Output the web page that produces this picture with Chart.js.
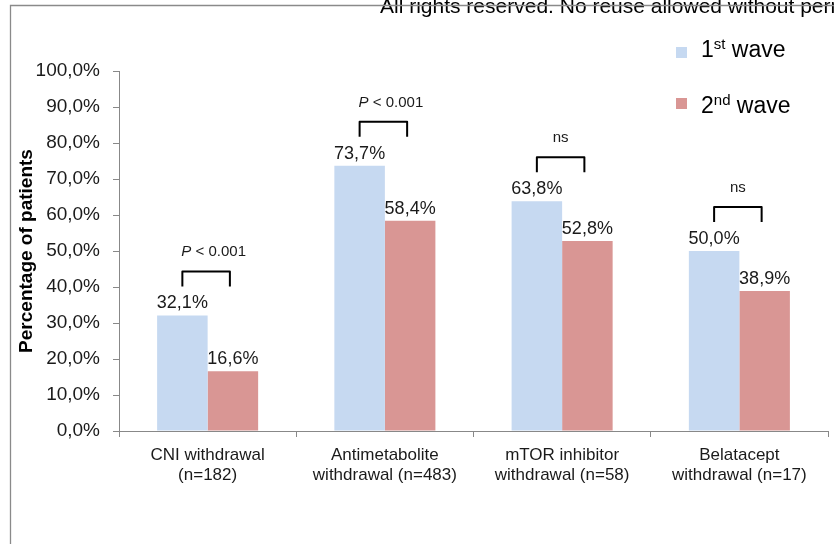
<!DOCTYPE html>
<html>
<head>
<meta charset="utf-8">
<script src="https://cdn.jsdelivr.net/npm/chart.js@4.4.1/dist/chart.umd.min.js"></script>
<style>
  html, body { margin: 0; padding: 0; background: #fff; }
  #wrap { position: relative; width: 834px; height: 544px; }
</style>
</head>
<body>
<div id="wrap"><canvas id="chart"></canvas></div>
<script>
// data
const categories = [
    ['CNI withdrawal', '(n=182)'],
    ['Antimetabolite', 'withdrawal (n=483)'],
    ['mTOR inhibitor', 'withdrawal (n=58)'],
    ['Belatacept', 'withdrawal (n=17)']
];
const seriesNames = ['1st wave', '2nd wave'];
const firstWave = [32.1, 73.7, 63.8, 50.0];
const secondWave = [16.6, 58.4, 52.8, 38.9];
const significance = ['P < 0.001', 'P < 0.001', 'ns', 'ns'];
const yMin = 0, yMax = 100, yStep = 10;
const watermark = 'All rights reserved. No reuse allowed without permission.';

const BLUE = '#C6D9F1';
const RED = '#D99694';
const FONT = "'Liberation Sans', Arial, sans-serif";

Chart.defaults.font.family = FONT;
Chart.defaults.color = '#1a1a1a';

// 逗號小數，跟原圖一樣
const pct = v => v.toFixed(1).replace('.', ',') + '%';

const overlayPlugin = {
    id: 'overlay',
    afterDatasetsDraw(chart) {
        const ctx = chart.ctx;
        const m0 = chart.getDatasetMeta(0);
        const m1 = chart.getDatasetMeta(1);
        ctx.save();

        // value labels above the bars
        ctx.font = '18px ' + FONT;
        ctx.fillStyle = '#1a1a1a';
        ctx.textAlign = 'center';
        ctx.textBaseline = 'alphabetic';
        [m0, m1].forEach((meta, d) => {
            meta.data.forEach((bar, i) => {
                ctx.fillText(pct(chart.data.datasets[d].data[i]), bar.x, bar.y - 7);
            });
        });

        // significance brackets
        ctx.strokeStyle = '#000';
        ctx.lineWidth = 2;
        ctx.lineJoin = 'round';
        m0.data.forEach((bar, i) => {
            const x1 = bar.x;
            const x2 = m1.data[i].x - 3;
            const top = bar.y - 44;
            ctx.beginPath();
            ctx.moveTo(x1, top + 15);
            ctx.lineTo(x1, top);
            ctx.lineTo(x2, top);
            ctx.lineTo(x2, top + 15);
            ctx.stroke();

            const txt = significance[i];
            const base = top - 15;
            if (txt.startsWith('P')) {
                ctx.textAlign = 'left';
                ctx.font = 'italic 15px ' + FONT;
                ctx.fillText('P', x1 - 1, base);
                const w = ctx.measureText('P ').width;
                ctx.font = '15px ' + FONT;
                ctx.fillText(txt.slice(2), x1 - 1 + w, base);
            } else {
                ctx.textAlign = 'center';
                ctx.font = '15px ' + FONT;
                ctx.fillText(txt, (x1 + x2) / 2, base);
            }
        });
        ctx.restore();
    },
    afterDraw(chart) {
        const ctx = chart.ctx;
        ctx.save();

        // legend with superscripts
        const colors = [BLUE, RED];
        seriesNames.forEach((name, i) => {
            const m = name.match(/^(\d+)(\D+?) (.*)$/);
            const sqTop = 47 + i * 51;
            const base = 57 + i * 56;
            ctx.fillStyle = colors[i];
            ctx.fillRect(676, sqTop, 11, 11);
            ctx.fillStyle = '#000';
            ctx.textAlign = 'left';
            ctx.textBaseline = 'alphabetic';
            let x = 701;
            ctx.font = '23px ' + FONT;
            ctx.fillText(m[1], x, base);
            x += ctx.measureText(m[1]).width;
            ctx.font = '15px ' + FONT;
            ctx.fillText(m[2], x, base - 8);
            x += ctx.measureText(m[2]).width;
            ctx.font = '23px ' + FONT;
            ctx.fillText(' ' + m[3], x, base);
        });

        // watermark, cut off by the page edge
        ctx.font = '21px ' + FONT;
        ctx.fillStyle = '#000';
        ctx.fillText(watermark, 380, 13);

        // frame
        ctx.strokeStyle = '#8a8a8a';
        ctx.lineWidth = 1.3;
        ctx.beginPath();
        ctx.moveTo(10.5, 544);
        ctx.lineTo(10.5, 5.5);
        ctx.lineTo(834, 5.5);
        ctx.stroke();
        ctx.restore();
    }
};

const ctx = document.getElementById('chart').getContext('2d');
new Chart(ctx, {
    type: 'bar',
    data: {
        labels: categories,
        datasets: [
            { label: seriesNames[0], data: firstWave, backgroundColor: BLUE },
            { label: seriesNames[1], data: secondWave, backgroundColor: RED }
        ]
    },
    options: {
        responsive: true,
        maintainAspectRatio: false,
        animation: false,
        layout: { padding: { left: 0, top: 71, right: 6, bottom: 0 } },
        datasets: { bar: { categoryPercentage: 0.57, barPercentage: 1.0 } },
        scales: {
            x: {
                grid: { drawOnChartArea: false, drawTicks: true, tickLength: 6, color: '#888' },
                border: { display: true, color: '#888', width: 1 },
                ticks: { font: { size: 17, lineHeight: 1.18 }, color: '#1a1a1a', padding: 8, maxRotation: 0, autoSkip: false },
                afterFit(scale) { scale.height = 113; }
            },
            y: {
                min: yMin,
                max: yMax,
                grid: { drawOnChartArea: false, drawTicks: true, tickLength: 6, color: '#888' },
                border: { display: true, color: '#888', width: 1 },
                ticks: { stepSize: yStep, font: { size: 19 }, color: '#1a1a1a', padding: 13, callback: v => pct(v) },
                title: {
                    display: true,
                    text: 'Percentage of patients',
                    font: { size: 19, weight: 'bold' },
                    color: '#000',
                    padding: { top: 15, bottom: 0 }
                },
                afterFit(scale) { scale.width = 119; }
            }
        },
        plugins: {
            legend: { display: false },
            tooltip: { enabled: false }
        }
    },
    plugins: [overlayPlugin]
});
</script>
</body>
</html>
